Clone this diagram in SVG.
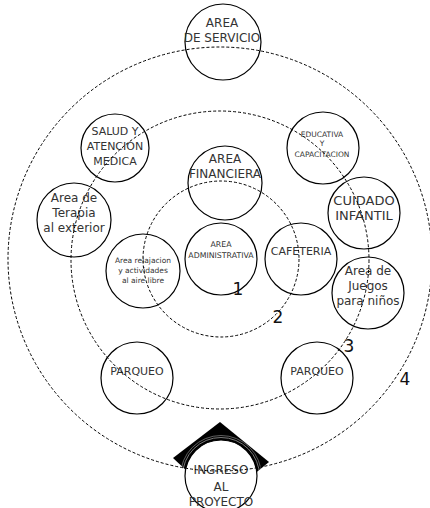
<svg xmlns="http://www.w3.org/2000/svg" width="430" height="508" viewBox="0 0 430 508">
<style>
.n{fill:none;stroke:#000;stroke-width:1.2}
.d{fill:none;stroke:#000;stroke-width:1;stroke-dasharray:3 2}
text{font-family:"DejaVu Sans",sans-serif;fill:#333;text-anchor:middle}
.num{font-family:"DejaVu Sans",sans-serif;font-size:17px;fill:#111}
</style>
<defs>
<clipPath id="dia"><polygon points="220,422 269,462 220,502 173,458"/></clipPath>
</defs>
<rect width="430" height="508" fill="#fff"/>
<g id="ingreso">
<polygon points="220,422 269,462 220,502 173,458" fill="#000"/>
<g clip-path="url(#dia)">
<circle cx="221" cy="476" r="40.5" fill="none" stroke="#777" stroke-width="0.8"/>
<circle cx="221" cy="476" r="38.5" fill="none" stroke="#999" stroke-width="0.8"/>
</g>
<circle cx="221" cy="476" r="36" fill="#fff" stroke="#000" stroke-width="1.2"/>
<text font-size="12" x="221" y="474">INGRESO</text>
<text font-size="12" x="221" y="491">AL</text>
<text font-size="12" x="221" y="506">PROYECTO</text>
</g>
<g id="servicio">
<circle class="n" cx="223" cy="42" r="38"/>
<text font-size="12" x="222" y="27">AREA</text>
<text font-size="12" x="222" y="42">DE SERVICIO</text>
</g>
<g id="salud">
<circle class="n" cx="115" cy="148" r="34"/>
<text font-size="11" x="115" y="135">SALUD Y</text>
<text font-size="11" x="115" y="150">ATENCION</text>
<text font-size="11" x="115" y="165">MEDICA</text>
</g>
<g id="educativa">
<circle class="n" cx="323" cy="148" r="36"/>
<text font-size="7.5" x="322" y="137">EDUCATIVA</text>
<text font-size="7.5" x="322" y="146">Y</text>
<text font-size="7.5" x="322" y="157">CAPACITACION</text>
</g>
<g id="cuidado">
<circle class="n" cx="364" cy="213" r="36"/>
<text font-size="13" x="364" y="205">CUIDADO</text>
<text font-size="13" x="364" y="220">INFANTIL</text>
</g>
<g id="financiera">
<circle class="n" cx="225" cy="183" r="37"/>
<text font-size="12" x="225" y="163">AREA</text>
<text font-size="12" x="225" y="178">FINANCIERA</text>
</g>
<g id="terapia">
<circle class="n" cx="74" cy="220" r="37"/>
<text font-size="12" x="74" y="202">Area de</text>
<text font-size="12" x="74" y="217">Terapia</text>
<text font-size="12" x="74" y="232">al exterior</text>
</g>
<g id="relajacion">
<circle class="n" cx="143" cy="271" r="37"/>
<text font-size="7.5" x="143" y="263">Area relajacion</text>
<text font-size="7.5" x="143" y="273">y actividades</text>
<text font-size="7.5" x="143" y="283">al aire libre</text>
</g>
<g id="administrativa">
<circle class="n" cx="221" cy="259" r="36"/>
<text font-size="7.8" x="221" y="247">AREA</text>
<text font-size="7.8" x="221" y="258">ADMINISTRATIVA</text>
</g>
<g id="cafeteria">
<circle class="n" cx="301" cy="259" r="36"/>
<text font-size="11" x="301" y="255">CAFETERIA</text>
</g>
<g id="juegos">
<circle class="n" cx="368" cy="293" r="36"/>
<text font-size="12" x="368" y="275">Area de</text>
<text font-size="12" x="368" y="290">Juegos</text>
<text font-size="12" x="368" y="305">para niños</text>
</g>
<g id="parqueo1">
<circle class="n" cx="137" cy="378" r="36"/>
<text font-size="11" x="137" y="375">PARQUEO</text>
</g>
<g id="parqueo2">
<circle class="n" cx="317" cy="378" r="36"/>
<text font-size="11" x="317" y="375">PARQUEO</text>
</g>
<g id="connectors">
<circle class="d" cx="221" cy="259" r="78"/>
<circle class="d" cx="220" cy="260" r="149"/>
<circle class="d" cx="220" cy="259" r="212"/>
</g>
<g id="labels">
<text class="num" x="238" y="295">1</text>
<text class="num" x="278" y="323">2</text>
<text class="num" x="349" y="352">3</text>
<text class="num" x="405" y="385">4</text>
</g>
</svg>
